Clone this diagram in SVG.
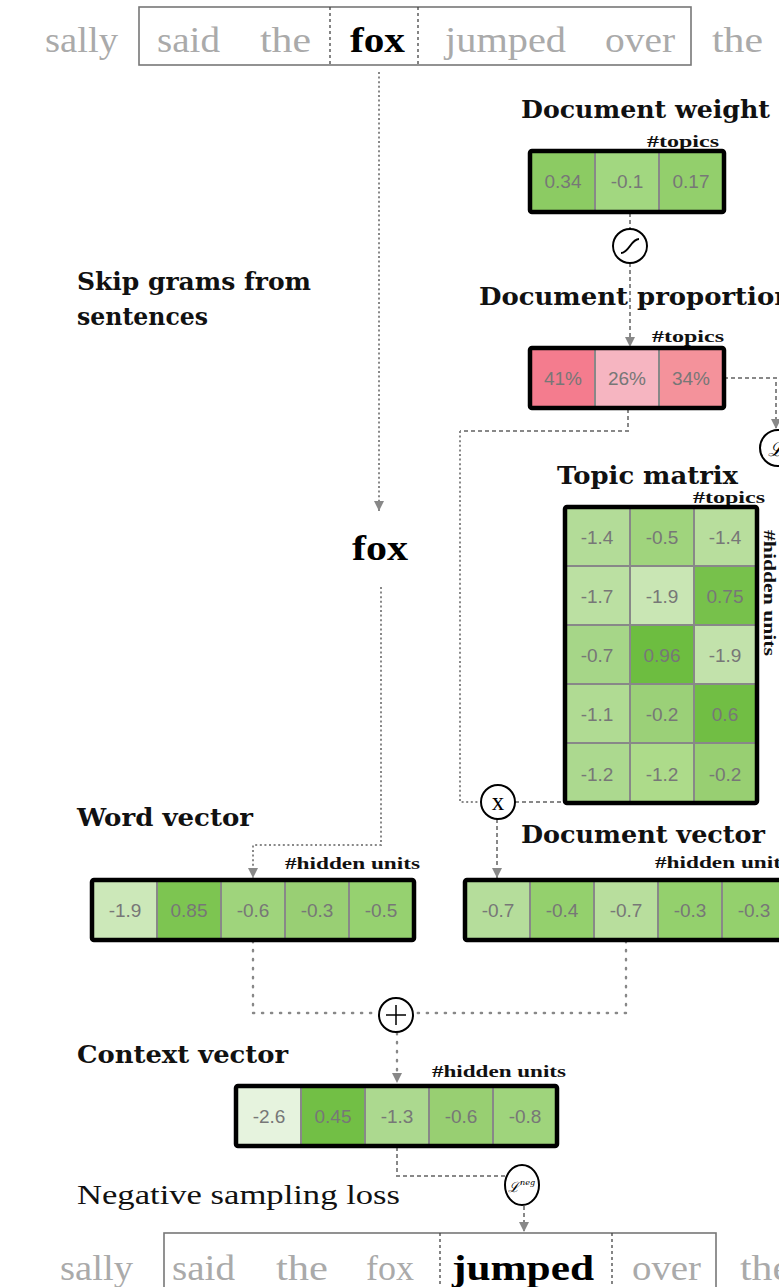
<svg xmlns="http://www.w3.org/2000/svg" width="779" height="1287" viewBox="0 0 779 1287">
<style>
.bg{fill:#fff}
.word{font-family:"Liberation Serif",serif;font-size:36px;fill:#aaa}
.wordb{font-family:"Liberation Serif",serif;font-size:36px;font-weight:bold;fill:#000}
.title{font-family:"DejaVu Serif","Liberation Serif",serif;font-size:24px;font-weight:bold;fill:#111}
.small{font-family:"Liberation Serif",serif;font-size:17px;font-weight:bold;fill:#111}
.num{font-family:"Liberation Sans",Arial,sans-serif;font-size:19px;fill:#777;text-anchor:middle}
.cell{stroke:#888;stroke-width:2}
.frame{fill:none;stroke:#000;stroke-width:4.5}
.conn{fill:none;stroke:#888;stroke-width:2}
.dash{stroke-dasharray:4 3}
.dot{stroke-dasharray:2 2.6}
.sdot{stroke-dasharray:1.2 7.8;stroke-linecap:round;stroke-width:2.4}
.op{fill:#fff;stroke:#000;stroke-width:2}
.sep{stroke:#444;stroke-width:1.3;stroke-dasharray:3 3}
.sbox{fill:none;stroke:#777;stroke-width:1.6}
</style>
<defs>
<marker id="arr" markerUnits="userSpaceOnUse" markerWidth="11" markerHeight="11" refX="10" refY="5" orient="auto">
<path d="M0,0 L10,5 L0,10 z" fill="#888"/>
</marker>
</defs>
<rect class="bg" x="0" y="0" width="779" height="1287"/>

<g id="top-sentence">
<rect class="sbox" x="139" y="7" width="552" height="58"/>
<line class="sep" x1="330" y1="7" x2="330" y2="65"/>
<line class="sep" x1="418" y1="7" x2="418" y2="65"/>
<text class="word" x="45" y="52" textLength="73" lengthAdjust="spacingAndGlyphs">sally</text>
<text class="word" x="157" y="52" textLength="63" lengthAdjust="spacingAndGlyphs">said</text>
<text class="word" x="260" y="52" textLength="51" lengthAdjust="spacingAndGlyphs">the</text>
<text class="wordb" x="350" y="52" textLength="55" lengthAdjust="spacingAndGlyphs">fox</text>
<text class="word" x="445" y="52" textLength="121" lengthAdjust="spacingAndGlyphs">jumped</text>
<text class="word" x="605" y="52" textLength="70" lengthAdjust="spacingAndGlyphs">over</text>
<text class="word" x="712" y="52" textLength="51" lengthAdjust="spacingAndGlyphs">the</text>
</g>

<g id="label-skip">
<text class="title" x="77" y="290" textLength="234" lengthAdjust="spacingAndGlyphs">Skip grams from</text>
<text class="title" x="77" y="325" textLength="131" lengthAdjust="spacingAndGlyphs">sentences</text>
</g>

<g id="fox-word">
<text class="wordb" x="352" y="560" font-size="33" textLength="56" lengthAdjust="spacingAndGlyphs">fox</text>
</g>

<g id="connectors">
<path class="conn dot" d="M379,72 V511" marker-end="url(#arr)"/>
<path class="conn dot" d="M381,587 V845 H253 V878" marker-end="url(#arr)"/>
<path class="conn dash" d="M630,213 V229"/>
<path class="conn dash" d="M630,263 V347" marker-end="url(#arr)"/>
<path class="conn dash" d="M724,378 H776 V429" marker-end="url(#arr)"/>
<path class="conn dash" d="M628,409 V431 H460"/>
<path class="conn dot" d="M460,431 V802 H481"/>
<path class="conn dash" d="M515,802 H565"/>
<path class="conn dash" d="M497,819 V878" marker-end="url(#arr)"/>
<path class="conn sdot" d="M253,941 V1013 H379"/>
<path class="conn sdot" d="M626,941 V1013 H413"/>
<path class="conn sdot" d="M397,1033 V1083" marker-end="url(#arr)"/>
<path class="conn dash" d="M397,1147 V1176 H506"/>
<path class="conn dash" d="M524,1206 V1232" marker-end="url(#arr)"/>
</g>

<g id="doc-weight">
<text class="title" x="521" y="118" textLength="249" lengthAdjust="spacingAndGlyphs">Document weight</text>
<text class="small" x="647" y="147" textLength="72" lengthAdjust="spacingAndGlyphs">#topics</text>
<rect class="cell" x="530" y="151" width="65" height="61" fill="#8ccb63"/>
<rect class="cell" x="595" y="151" width="64" height="61" fill="#a2d780"/>
<rect class="cell" x="659" y="151" width="65" height="61" fill="#93cf6c"/>
<rect class="frame" x="530" y="151" width="194" height="61" rx="2"/>
<text class="num" x="563" y="188">0.34</text>
<text class="num" x="627" y="188">-0.1</text>
<text class="num" x="691" y="188">0.17</text>
</g>

<g id="sigmoid">
<circle class="op" cx="630" cy="246" r="17"/>
<path d="M621,253 C629,253 631,239 639,239" fill="none" stroke="#000" stroke-width="2"/>
</g>

<g id="doc-proportion">
<text class="title" x="479" y="305" textLength="314" lengthAdjust="spacingAndGlyphs">Document proportion</text>
<text class="small" x="652" y="342" textLength="72" lengthAdjust="spacingAndGlyphs">#topics</text>
<rect class="cell" x="530" y="348" width="65" height="60" fill="#f47c8e"/>
<rect class="cell" x="595" y="348" width="64" height="60" fill="#f6b5c1"/>
<rect class="cell" x="659" y="348" width="65" height="60" fill="#f4929b"/>
<rect class="frame" x="530" y="348" width="194" height="60" rx="2"/>
<text class="num" x="563" y="385">41%</text>
<text class="num" x="627" y="385">26%</text>
<text class="num" x="691" y="385">34%</text>
</g>

<g id="lda-loss">
<circle class="op" cx="778" cy="448" r="18"/>
<text x="768" y="456" font-family="DejaVu Serif,serif" font-size="20" font-style="italic" fill="#000">ℒ</text>
</g>

<g id="topic-matrix">
<text class="title" x="557" y="484" textLength="181" lengthAdjust="spacingAndGlyphs">Topic matrix</text>
<text class="small" x="693" y="503" textLength="72" lengthAdjust="spacingAndGlyphs">#topics</text>
<text class="small" transform="translate(764,530) rotate(90)" textLength="126" lengthAdjust="spacingAndGlyphs">#hidden units</text>
<g>
<rect class="cell" x="565" y="507" width="65" height="59" fill="#b3dc98"/>
<rect class="cell" x="630" y="507" width="64" height="59" fill="#a0d47d"/>
<rect class="cell" x="694" y="507" width="63" height="59" fill="#b8de9d"/>
<rect class="cell" x="565" y="566" width="65" height="59" fill="#bbe0a2"/>
<rect class="cell" x="630" y="566" width="64" height="59" fill="#c9e6b4"/>
<rect class="cell" x="694" y="566" width="63" height="59" fill="#77c14b"/>
<rect class="cell" x="565" y="625" width="65" height="59" fill="#a6d688"/>
<rect class="cell" x="630" y="625" width="64" height="59" fill="#6dbd40"/>
<rect class="cell" x="694" y="625" width="63" height="59" fill="#c2e2ab"/>
<rect class="cell" x="565" y="684" width="65" height="59" fill="#b0db93"/>
<rect class="cell" x="630" y="684" width="64" height="59" fill="#9bd078"/>
<rect class="cell" x="694" y="684" width="63" height="59" fill="#71be44"/>
<rect class="cell" x="565" y="743" width="65" height="60" fill="#acd98f"/>
<rect class="cell" x="630" y="743" width="64" height="60" fill="#addb8a"/>
<rect class="cell" x="694" y="743" width="63" height="60" fill="#98cf72"/>
</g>
<rect class="frame" x="565" y="507" width="192" height="296" rx="2"/>
<text class="num" x="597" y="544">-1.4</text>
<text class="num" x="662" y="544">-0.5</text>
<text class="num" x="725" y="544">-1.4</text>
<text class="num" x="597" y="603">-1.7</text>
<text class="num" x="662" y="603">-1.9</text>
<text class="num" x="725" y="603">0.75</text>
<text class="num" x="597" y="662">-0.7</text>
<text class="num" x="662" y="662">0.96</text>
<text class="num" x="725" y="662">-1.9</text>
<text class="num" x="597" y="721">-1.1</text>
<text class="num" x="662" y="721">-0.2</text>
<text class="num" x="725" y="721">0.6</text>
<text class="num" x="597" y="781">-1.2</text>
<text class="num" x="662" y="781">-1.2</text>
<text class="num" x="725" y="781">-0.2</text>
</g>

<g id="multiply">
<circle class="op" cx="498" cy="802" r="17"/>
<text x="498" y="810" font-family="Liberation Serif,serif" font-size="25" fill="#000" text-anchor="middle">x</text>
</g>

<g id="word-vector">
<text class="title" x="77" y="826" textLength="176" lengthAdjust="spacingAndGlyphs">Word vector</text>
<text class="small" x="285" y="869" textLength="135" lengthAdjust="spacingAndGlyphs">#hidden units</text>
<rect class="cell" x="92" y="880" width="65" height="60" fill="#cce8b9"/>
<rect class="cell" x="157" y="880" width="64" height="60" fill="#7dc551"/>
<rect class="cell" x="221" y="880" width="64" height="60" fill="#9fd47c"/>
<rect class="cell" x="285" y="880" width="64" height="60" fill="#99cf74"/>
<rect class="cell" x="349" y="880" width="65" height="60" fill="#96d170"/>
<rect class="frame" x="92" y="880" width="322" height="60" rx="2"/>
<text class="num" x="125" y="917">-1.9</text>
<text class="num" x="189" y="917">0.85</text>
<text class="num" x="253" y="917">-0.6</text>
<text class="num" x="317" y="917">-0.3</text>
<text class="num" x="381" y="917">-0.5</text>
</g>

<g id="doc-vector">
<text class="title" x="521" y="843" textLength="244" lengthAdjust="spacingAndGlyphs">Document vector</text>
<text class="small" x="655" y="868" textLength="135" lengthAdjust="spacingAndGlyphs">#hidden units</text>
<rect class="cell" x="465" y="880" width="65" height="60" fill="#b5dd9b"/>
<rect class="cell" x="530" y="880" width="64" height="60" fill="#94d06d"/>
<rect class="cell" x="594" y="880" width="64" height="60" fill="#b8de9d"/>
<rect class="cell" x="658" y="880" width="64" height="60" fill="#94d06d"/>
<rect class="cell" x="722" y="880" width="65" height="60" fill="#94d06d"/>
<rect class="frame" x="465" y="880" width="322" height="60" rx="2"/>
<text class="num" x="498" y="917">-0.7</text>
<text class="num" x="562" y="917">-0.4</text>
<text class="num" x="626" y="917">-0.7</text>
<text class="num" x="690" y="917">-0.3</text>
<text class="num" x="754" y="917">-0.3</text>
</g>

<g id="plus">
<circle class="op" cx="396" cy="1015" r="17"/>
<path d="M386,1015 H406 M396,1005 V1025" stroke="#000" stroke-width="1.5"/>
</g>

<g id="context-vector">
<text class="title" x="77" y="1063" textLength="211" lengthAdjust="spacingAndGlyphs">Context vector</text>
<text class="small" x="432" y="1077" textLength="134" lengthAdjust="spacingAndGlyphs">#hidden units</text>
<rect class="cell" x="236" y="1086" width="65" height="60" fill="#e6f3de"/>
<rect class="cell" x="301" y="1086" width="64" height="60" fill="#72bf45"/>
<rect class="cell" x="365" y="1086" width="64" height="60" fill="#acd98f"/>
<rect class="cell" x="429" y="1086" width="64" height="60" fill="#98cf72"/>
<rect class="cell" x="493" y="1086" width="64" height="60" fill="#9fd47c"/>
<rect class="frame" x="236" y="1086" width="321" height="60" rx="2"/>
<text class="num" x="269" y="1123">-2.6</text>
<text class="num" x="333" y="1123">0.45</text>
<text class="num" x="397" y="1123">-1.3</text>
<text class="num" x="461" y="1123">-0.6</text>
<text class="num" x="525" y="1123">-0.8</text>
</g>

<g id="neg-loss">
<text x="77" y="1204" font-family="Liberation Serif,serif" font-size="27" fill="#111" textLength="323" lengthAdjust="spacingAndGlyphs">Negative sampling loss</text>
<ellipse class="op" cx="522" cy="1185" rx="17" ry="20"/>
<text x="508" y="1192" font-family="DejaVu Serif,serif" font-size="14" font-style="italic" fill="#000">ℒ<tspan dy="-7" font-size="8">neg</tspan></text>
</g>

<g id="bottom-sentence">
<rect class="sbox" x="164" y="1233" width="552" height="70"/>
<line class="sep" x1="440" y1="1233" x2="440" y2="1287"/>
<line class="sep" x1="612" y1="1233" x2="612" y2="1287"/>
<text class="word" x="60" y="1280" textLength="73" lengthAdjust="spacingAndGlyphs">sally</text>
<text class="word" x="172" y="1280" textLength="63" lengthAdjust="spacingAndGlyphs">said</text>
<text class="word" x="276" y="1280" textLength="52" lengthAdjust="spacingAndGlyphs">the</text>
<text class="word" x="366" y="1280" textLength="48" lengthAdjust="spacingAndGlyphs">fox</text>
<text class="wordb" x="452" y="1280" textLength="142" lengthAdjust="spacingAndGlyphs">jumped</text>
<text class="word" x="632" y="1280" textLength="69" lengthAdjust="spacingAndGlyphs">over</text>
<text class="word" x="740" y="1280" textLength="51" lengthAdjust="spacingAndGlyphs">the</text>
</g>
</svg>
